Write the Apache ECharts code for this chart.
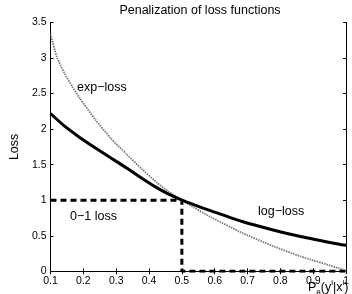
<!DOCTYPE html>
<html>
<head>
<meta charset="utf-8">
<script src="https://cdn.jsdelivr.net/npm/echarts@6/dist/echarts.min.js"></script>
<style>
  html, body { margin: 0; padding: 0; background: #fff; }
  #chart { width: 352px; height: 294px; }
</style>
</head>
<body>
<div id="chart"></div>
<script>
// values
const logP = [0.1, 0.142, 0.19, 0.237, 0.284, 0.331, 0.378, 0.426, 0.46, 0.5, 0.54, 0.589, 0.684, 0.775, 0.861, 0.98, 1.0];
const logLoss = [2.22, 2.045, 1.88, 1.735, 1.595, 1.455, 1.31, 1.17, 1.085, 1.0, 0.93, 0.85, 0.70, 0.585, 0.49, 0.38, 0.365];

const expP = [0.1, 0.119, 0.142, 0.166, 0.19, 0.237, 0.284, 0.331, 0.378, 0.426, 0.46, 0.5, 0.54, 0.589, 0.684, 0.775, 0.861, 0.98, 1.0];
const expLoss = [3.34, 3.02, 2.79, 2.6, 2.43, 2.13, 1.87, 1.65, 1.44, 1.24, 1.12, 1.0, 0.89, 0.76, 0.54, 0.36, 0.21, 0.04, 0.0];

const zeroOneP = [0.1, 0.5, 0.5, 1.0];
const zeroOneLoss = [1, 1, 0, 0];

const font = "'Liberation Sans', Arial, Helvetica, sans-serif";
const pairs = (xs, ys) => xs.map((x, i) => [x, ys[i]]);
const fmt = v => String(+v.toFixed(1));

const axisBase = {
  type: 'value',
  axisLine: { show: true, lineStyle: { color: '#000', width: 1 } },
  axisTick: { show: true, inside: true, length: 3, lineStyle: { color: '#000' } },
  splitLine: { show: false },
};

const option = {
  animation: false,
  grid: { left: 41.7, top: 22.5, width: 317.5, height: 248.8 },
  xAxis: [
    {
      ...axisBase,
      min: 0.1, max: 1, interval: 0.1,
      axisLabel: { color: '#000', fontSize: 10.5, fontFamily: font, margin: 4, formatter: fmt },
    },
    {
      ...axisBase,
      position: 'top',
      min: 0.1, max: 1, interval: 0.1,
      axisLabel: { show: false },
    },
  ],
  yAxis: [
    {
      ...axisBase,
      min: 0, max: 3.5, interval: 0.5,
      name: 'Loss',
      nameLocation: 'middle',
      nameGap: 19,
      nameRotate: 90,
      nameTextStyle: { color: '#000', fontSize: 12.5, fontFamily: font },
      axisLabel: { color: '#000', fontSize: 10.5, fontFamily: font, margin: 4, formatter: fmt },
    },
    {
      ...axisBase,
      position: 'right',
      min: 0, max: 3.5, interval: 0.5,
      axisLabel: { show: false },
    },
  ],
  series: [
    {
      name: 'exp-loss',
      type: 'line',
      showSymbol: false,
      smooth: 0.2,
      data: pairs(expP, expLoss),
      lineStyle: { color: '#777', width: 1.8, type: [1.5, 1] },
      z: 2,
    },
    {
      name: 'log-loss',
      type: 'line',
      showSymbol: false,
      smooth: 0.2,
      data: pairs(logP, logLoss),
      lineStyle: { color: '#000', width: 3 },
      z: 3,
    },
    {
      name: '0-1 loss',
      type: 'line',
      showSymbol: false,
      data: pairs(zeroOneP, zeroOneLoss),
      lineStyle: { color: '#000', width: 3, type: [6, 4] },
      z: 4,
    },
  ],
  graphic: [
    {
      type: 'text', x: 200, y: 4,
      style: { text: 'Penalization of loss functions', font: '12.5px ' + font, fill: '#000', textAlign: 'center' },
    },
    { type: 'text', x: 77, y: 81, style: { text: 'exp\u2212loss', font: '12.5px ' + font, fill: '#000' } },
    { type: 'text', x: 70, y: 210, style: { text: '0\u22121 loss', font: '12.5px ' + font, fill: '#000' } },
    { type: 'text', x: 258, y: 205, style: { text: 'log\u2212loss', font: '12.5px ' + font, fill: '#000' } },
    {
      type: 'text', x: 308, y: 279,
      style: {
        text: '{a|P}{s|θ}{a|(y}{p|i}{a||x}{p|i}{a|)}',
        fill: '#000',
        rich: {
          a: { fontSize: 12.5, fontFamily: font, lineHeight: 18, verticalAlign: 'middle' },
          s: { fontSize: 8, fontFamily: font, lineHeight: 18, verticalAlign: 'bottom' },
          p: { fontSize: 8, fontFamily: font, lineHeight: 18, verticalAlign: 'top' },
        },
      },
    },
  ],
};

echarts.init(document.getElementById('chart'), null, { renderer: 'canvas' }).setOption(option);
</script>
</body>
</html>
